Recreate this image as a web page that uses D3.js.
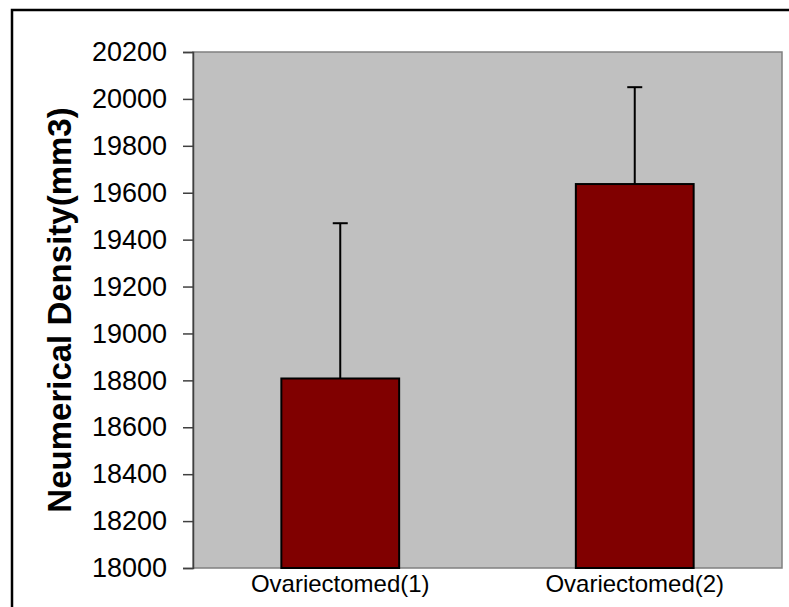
<!DOCTYPE html>
<html>
<head>
<meta charset="utf-8">
<script src="https://cdn.jsdelivr.net/npm/d3@7"></script>
<style>
  body { margin: 0; background: #fff; }
  svg text { font-family: Arial, "Liberation Sans", sans-serif; }
</style>
</head>
<body>
<svg id="chart"></svg>
<script>
// chart data
var categories = ['Ovariectomed(1)', 'Ovariectomed(2)'],
	means = [18808, 19637],
	errors = [662, 413],
	yTicks = [18000, 18200, 18400, 18600, 18800, 19000, 19200, 19400, 19600, 19800, 20000, 20200];

var width = 789,
	height = 607,
	plotLeft = 193,
	plotRight = 782,
	plotTop = 52,
	plotBottom = 568;

var svg = d3.select('#chart')
	.attr('width', width)
	.attr('height', height);

// outer frame (right and bottom edges fall outside the picture)
svg.append('rect')
	.attr('x', 12).attr('y', 10)
	.attr('width', 820).attr('height', 640)
	.attr('fill', 'none')
	.attr('stroke', '#000')
	.attr('stroke-width', 2.5);

var x = d3.scaleBand()
	.domain(categories)
	.range([plotLeft, plotRight])
	.paddingInner(0.6)
	.paddingOuter(0.3);

var y = d3.scaleLinear()
	.domain([18000, 20200])
	.range([plotBottom, plotTop]);

// plot area
svg.append('rect')
	.attr('x', plotLeft).attr('y', plotTop)
	.attr('width', plotRight - plotLeft)
	.attr('height', plotBottom - plotTop)
	.attr('fill', '#c0c0c0')
	.attr('stroke', '#808080')
	.attr('stroke-width', 1.5);

// bars
svg.selectAll('.bar')
	.data(means)
	.enter().append('rect')
		.attr('class', 'bar')
		.attr('x', function(d, i) { return x(categories[i]); })
		.attr('y', function(d) { return y(d); })
		.attr('width', x.bandwidth())
		.attr('height', function(d) { return y(18000) - y(d); })
		.attr('fill', '#800000')
		.attr('stroke', '#000')
		.attr('stroke-width', 2);

// error bars (upper only)
var err = svg.selectAll('.err')
	.data(means)
	.enter().append('g')
		.attr('class', 'err')
		.attr('transform', function(d, i) {
			return 'translate(' + (x(categories[i]) + x.bandwidth() / 2) + ',0)';
		});

err.append('line')
	.attr('x1', 0).attr('x2', 0)
	.attr('y1', function(d) { return y(d); })
	.attr('y2', function(d, i) { return y(d + errors[i]); })
	.attr('stroke', '#000')
	.attr('stroke-width', 2);

err.append('line')
	.attr('x1', -7.5).attr('x2', 7.5)
	.attr('y1', function(d, i) { return y(d + errors[i]); })
	.attr('y2', function(d, i) { return y(d + errors[i]); })
	.attr('stroke', '#000')
	.attr('stroke-width', 2);

// y axis
var yAxis = svg.append('g')
	.attr('transform', 'translate(' + plotLeft + ',0)')
	.call(d3.axisLeft(y).tickValues(yTicks).tickSize(10).tickPadding(16).tickFormat(d3.format('d')));

yAxis.select('.domain').attr('stroke', '#404040').attr('stroke-width', 1.5);
yAxis.selectAll('.tick line').attr('stroke', '#404040').attr('stroke-width', 1.5);
yAxis.selectAll('.tick text')
	.attr('font-size', '27px')
	.attr('font-family', 'Arial, "Liberation Sans", sans-serif')
	.attr('fill', '#000');

// x labels
svg.selectAll('.xlabel')
	.data(categories)
	.enter().append('text')
		.attr('class', 'xlabel')
		.attr('x', function(d) { return x(d) + x.bandwidth() / 2; })
		.attr('y', 592)
		.attr('text-anchor', 'middle')
		.attr('font-size', '24px')
		.attr('fill', '#000')
		.text(function(d) { return d; });

// y title
svg.append('text')
	.attr('transform', 'translate(71,' + ((plotTop + plotBottom) / 2) + ') rotate(-90)')
	.attr('text-anchor', 'middle')
	.attr('font-size', '33px')
	.attr('font-weight', 'bold')
	.attr('fill', '#000')
	.text('Neumerical Density(mm3)');
</script>
</body>
</html>
